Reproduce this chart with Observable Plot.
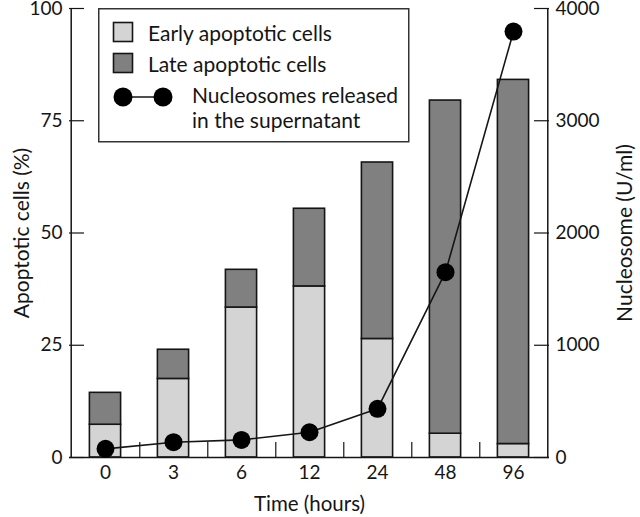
<!DOCTYPE html>
<html><head><meta charset="utf-8">
<script src="https://cdn.jsdelivr.net/npm/d3@7"></script>
<script src="https://cdn.jsdelivr.net/npm/@observablehq/plot@0.6"></script>
<style>
body{margin:0;background:#fff;}
#wrap{position:relative;width:640px;height:517px;font-family:Lato,sans-serif;}
#legend{position:absolute;left:0;top:0;pointer-events:none;}
</style></head><body><div id="wrap"></div>
<script>
// Data
const times = ["0", "3", "6", "12", "24", "48", "96"];
const earlyApoptotic = [7.3, 17.5, 33.4, 38.1, 26.4, 5.3, 3.0];      // % (bottom segment)
const totalApoptotic = [14.4, 24.0, 41.8, 55.4, 65.7, 79.5, 84.1];   // % (top of bar)
const nucleosomes = [77, 136, 157, 225, 434, 1651, 3795];            // U/ml
const leftTicks = [0, 25, 50, 75, 100];
const rightTicks = [0, 1000, 2000, 3000, 4000];
const legendLabels = ["Early apoptotic cells", "Late apoptotic cells", "Nucleosomes released", "in the supernatant"];

const ratio = 4000 / 100; // U/ml per % on the shared vertical scale
const rows = times.map((t, i) => ({time: t, early: earlyApoptotic[i], total: totalApoptotic[i], nuc: nucleosomes[i]}));

const W = 640, H = 517, mL = 69, mR = 91, mT = 8, mB = 60;
const bw = (W - mL - mR) / times.length;
const ink = "#151515";

const chart = Plot.plot({
  width: W, height: H,
  marginLeft: mL, marginRight: mR, marginTop: mT, marginBottom: mB,
  style: {fontFamily: "Lato, sans-serif", fontSize: "19px", color: ink, background: "white"},
  x: {type: "band", domain: times, padding: 0, axis: null},
  y: {domain: [0, 100], axis: null},
  marks: [
    Plot.barY(rows, {x: "time", y1: 0, y2: "early", fill: "#d3d4d3", stroke: ink, strokeWidth: 1.6, insetLeft: 18.4, insetRight: 18.4}),
    Plot.barY(rows, {x: "time", y1: "early", y2: "total", fill: "#808080", stroke: ink, strokeWidth: 1.6, insetLeft: 18.4, insetRight: 18.4}),
    // small category separators on the x baseline
    Plot.ruleX(times.slice(0, -1), {x: d => d, y1: 0, y2: 3.34, dx: bw / 2, stroke: ink, strokeWidth: 1.2}),
    // inward tick marks, left and right
    Plot.ruleY(leftTicks, {y: d => d, insetRight: W - mL - mR - 15, stroke: ink, strokeWidth: 1.2}),
    Plot.ruleY(rightTicks, {y: d => d / ratio, insetLeft: W - mL - mR - 15, stroke: ink, strokeWidth: 1.2}),
    // axis lines
    Plot.ruleX([times[0]], {x: d => d, y1: 0, y2: 100, dx: -bw / 2, stroke: ink, strokeWidth: 1.5}),
    Plot.ruleX([times[times.length - 1]], {x: d => d, y1: 0, y2: 100, dx: bw / 2, stroke: ink, strokeWidth: 1.5}),
    Plot.ruleY([0], {stroke: ink, strokeWidth: 1.5}),
    // tick labels
    Plot.axisY({anchor: "left", ticks: leftTicks, tickSize: 0, tickPadding: 7, label: null, fontSize: 19}),
    Plot.axisY({anchor: "right", ticks: leftTicks, tickFormat: d => String(d * ratio), tickSize: 0, tickPadding: 6, label: null, fontSize: 19}),
    Plot.axisX({anchor: "bottom", tickSize: 0, tickPadding: 8, label: null, fontSize: 19}),
    // titles
    Plot.text(["Time (hours)"], {frameAnchor: "bottom", textAnchor: "middle", lineAnchor: "middle", dy: 47, fontSize: 20.5, fill: ink}),
    Plot.text(["Apoptotic cells (%)"], {frameAnchor: "left", textAnchor: "middle", lineAnchor: "middle", rotate: -90, dx: -47, fontSize: 21, fill: ink}),
    Plot.text(["Nucleosome (U/ml)"], {frameAnchor: "right", textAnchor: "middle", lineAnchor: "middle", rotate: -90, dx: 76, fontSize: 21, fill: ink}),
    // nucleosome series
    Plot.line(rows, {x: "time", y: d => d.nuc / ratio, stroke: ink, strokeWidth: 1.6}),
    Plot.dot(rows, {x: "time", y: d => d.nuc / ratio, r: 9, fill: "#000", stroke: "none"})
  ]
});

const wrap = document.getElementById("wrap");
wrap.appendChild(chart);

// legend box overlaid inside the plot area
const lg = d3.create("svg").attr("id", "legend").attr("width", W).attr("height", H);
const g = lg.append("g").attr("transform", "translate(98,8)")
  .style("font-family", "Lato, sans-serif").style("font-size", "21px").attr("fill", ink);
g.append("rect").attr("x", 0.75).attr("y", 0.75).attr("width", 310).attr("height", 133)
  .attr("fill", "white").attr("stroke", "#333").attr("stroke-width", 1.5);
g.append("rect").attr("x", 15.5).attr("y", 14.5).attr("width", 19).attr("height", 19)
  .attr("fill", "#d3d4d3").attr("stroke", ink).attr("stroke-width", 1.6);
g.append("rect").attr("x", 15.5).attr("y", 45.5).attr("width", 19).attr("height", 19)
  .attr("fill", "#808080").attr("stroke", ink).attr("stroke-width", 1.6);
g.append("line").attr("x1", 25).attr("x2", 65).attr("y1", 89).attr("y2", 89).attr("stroke", ink).attr("stroke-width", 1.6);
g.append("circle").attr("cx", 25).attr("cy", 89).attr("r", 9.5).attr("fill", "#000");
g.append("circle").attr("cx", 65).attr("cy", 89).attr("r", 9.5).attr("fill", "#000");
g.append("text").attr("x", 50).attr("y", 33).text(legendLabels[0]);
g.append("text").attr("x", 50).attr("y", 64).text(legendLabels[1]);
g.append("text").attr("x", 94).attr("y", 95).text(legendLabels[2]);
g.append("text").attr("x", 94).attr("y", 120).text(legendLabels[3]);
wrap.appendChild(lg.node());
</script></body></html>
